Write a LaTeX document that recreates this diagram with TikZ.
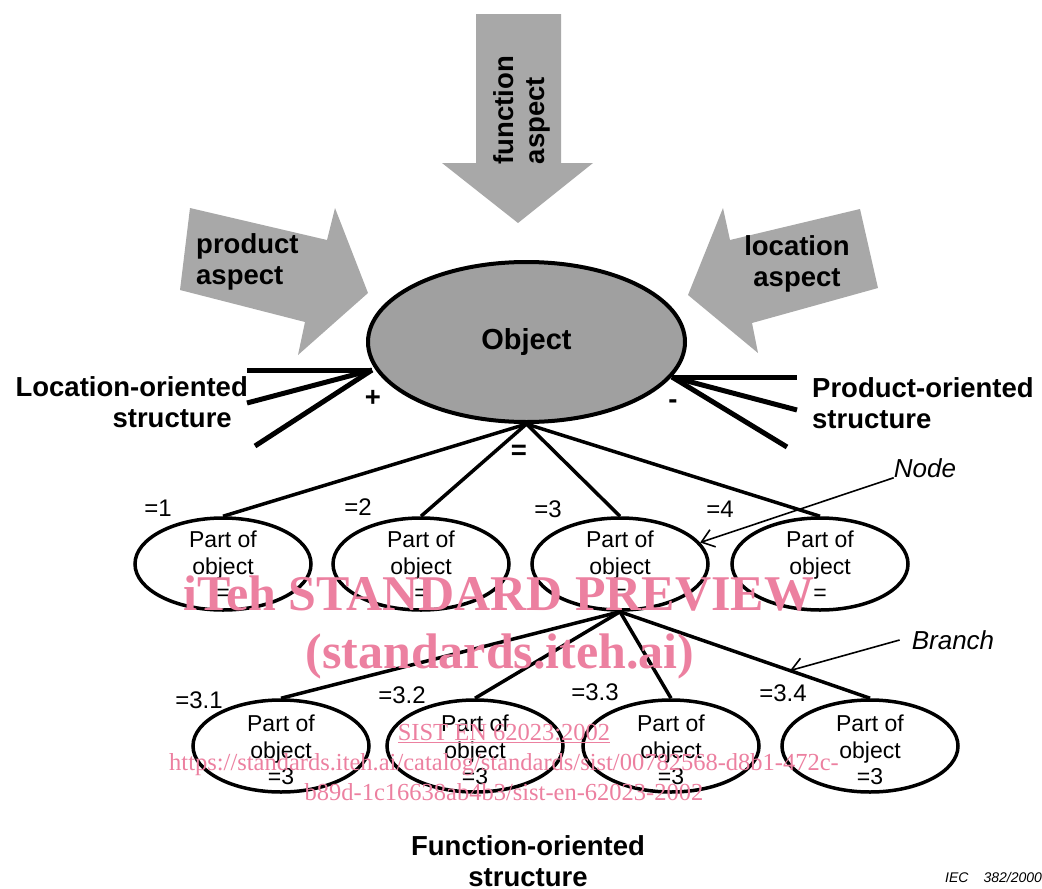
\documentclass[tikz,border=0pt]{standalone}
\usepackage{fontspec}
\setmainfont{Liberation Sans}
\newfontfamily\wmfont{Liberation Serif}
\usepackage{tikz}
\usetikzlibrary{arrows.meta, positioning, shapes.geometric}
\usepackage{xcolor}
\definecolor{aspectgray}{RGB}{168,168,168}
\definecolor{objgray}{RGB}{160,160,160}
\definecolor{wmpink}{RGB}{236,128,160}

\begin{document}
\begin{tikzpicture}[x=1pt, y=-1pt,
  heading/.style={font=\fontsize{27.5}{31}\selectfont\bfseries, inner sep=0pt},
  part/.style={ellipse, draw=black, line width=3.5pt,
               minimum width=176pt, minimum height=92pt, inner sep=0pt},
  parttext/.style={font=\fontsize{23}{26.5}\selectfont, align=center, inner sep=0pt},
  tag/.style={font=\fontsize{24}{26}\selectfont, inner sep=0pt},
  branch/.style={line width=3.5pt},
  spoke/.style={line width=5pt},
  callout/.style={font=\fontsize{26}{28}\selectfont\itshape, inner sep=0pt},
  pointer/.style={-{Straight Barb[length=12pt, width=18pt]}, line width=1.6pt},
  wm/.style={text=wmpink, inner sep=0pt, anchor=base,
             font=\wmfont\fontsize{24.5}{26}\selectfont}
]
  \useasboundingbox (0,0) rectangle (1042,889);

  % aspect arrows
  \fill[aspectgray] (476,14) -- (561,14) -- (561,163) -- (593,163)
    -- (518,223) -- (442,163) -- (476,163) -- cycle;
  \fill[aspectgray] (190,208) -- (327,240) -- (335,208) -- (368,293)
    -- (298,355) -- (305,322) -- (180,290) -- cycle;
  \fill[aspectgray] (860,209) -- (878,288) -- (752,323) -- (758,353)
    -- (688,295) -- (723,208) -- (730,240) -- cycle;
  \node[heading, rotate=90, align=left] (funclbl) at (522,110) {function\\aspect};
  \node[heading, align=left, anchor=west] (prodlbl) at (196,262) {product\\aspect};
  \node[heading, align=center] (loclbl) at (797,264) {location\\aspect};

  % object
  \node[ellipse, draw=black, line width=4pt, fill=objgray,
        minimum width=317pt, minimum height=160pt,
        font=\fontsize{29}{31}\selectfont\bfseries] (obj) at (526.5,342) {Object};

  \coordinate (lfork) at (372,370);
  \coordinate (rfork) at (672,377);
  \draw[spoke] (lfork) -- ++(-125,0);
  \draw[spoke] (lfork) -- ++(-125,33);
  \draw[spoke] (lfork) -- ++(-117,76);
  \draw[spoke] (rfork) -- ++(125,0);
  \draw[spoke] (rfork) -- ++(125,33);
  \draw[spoke] (rfork) -- ++(115,70);

  \node[heading, align=right, anchor=east] (locstr) at (248,402)
    {Location-oriented\\structure\hspace*{16pt}};
  \node[heading, align=left, anchor=west] (prodstr) at (812,403)
    {Product-oriented\\structure};
  \node[heading] (plus) at (373,398) {+};
  \node[heading] (minus) at (673,404) {-};
  \node[heading] (eqsign) at (519,452) {=};

  % first level
  \foreach \n/\x in {1/223, 2/421, 3/620, 4/820}{
    \node[part] (p\n) at (\x,564) {};
    \node[parttext] (p\n t) at (\x,566) {Part of\\object\\=};
    \draw[branch] (obj.south) -- (p\n.north);
  }
  \node[tag] (t1) at (158,508) {=1};
  \node[tag] (t2) at (358,507) {=2};
  \node[tag] (t3) at (548,509) {=3};
  \node[tag] (t4) at (720,509) {=4};

  % second level
  \foreach \n/\x in {1/281, 2/475, 3/671, 4/870}{
    \node[part] (q\n) at (\x,746) {};
    \node[parttext] (q\n t) at (\x,750) {Part of\\object\\=3};
  }
  \draw[branch] (p3.south) -- (q1.north);
  \draw[branch] (p3.south) -- (q2.north);
  \draw[branch] (p3.south) -- (q3.north);
  \draw[branch] (p3.south) -- coordinate[pos=0.68] (brpt) (q4.north);
  \node[tag] (t31) at (199,700) {=3.1};
  \node[tag] (t32) at (402,695) {=3.2};
  \node[tag] (t33) at (595,692) {=3.3};
  \node[tag] (t34) at (783,693) {=3.4};

  % callouts
  \node[callout] (nodelbl) at (925,468) {Node};
  \node[callout] (branchlbl) at (953,640) {Branch};
  \draw[pointer] (nodelbl.south west) -- (p3.15);
  \draw[pointer] ([xshift=-12pt]branchlbl.west) -- (brpt);

  \node[heading, align=center] (funcstr) at (528,861) {Function-oriented\\structure};
  \node[font=\fontsize{14}{16}\selectfont\itshape, anchor=base west, inner sep=0pt]
    (iec) at (945,882) {IEC\hspace{15pt}382/2000};

  % watermark
  \node[wm, font=\wmfont\fontsize{50}{52}\selectfont\bfseries] (wm1) at (499,610)
    {iTeh STANDARD PREVIEW};
  \node[wm, font=\wmfont\fontsize{50}{52}\selectfont\bfseries] (wm2) at (500,668)
    {(standards.iteh.ai)};
  \node[wm] (wm3) at (504,740) {\underline{SIST EN 62023:2002}};
  \node[wm] (wm4) at (504,770)
    {https://standards.iteh.ai/catalog/standards/sist/00782568-d8b1-472c-};
  \node[wm] (wm5) at (504,800) {b89d-1c16638ab4b3/sist-en-62023-2002};

\end{tikzpicture}
\end{document}
